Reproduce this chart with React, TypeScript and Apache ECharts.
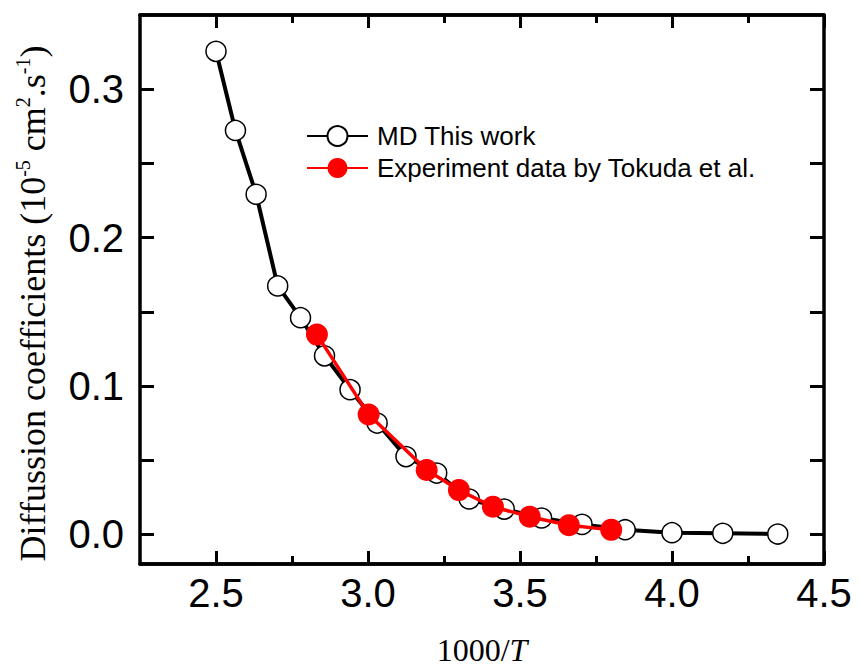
import React, { useEffect, useRef } from "react";
import * as echarts from "echarts";

const mdX = [2.5, 2.564, 2.632, 2.703, 2.778, 2.857, 2.941, 3.03, 3.125, 3.226, 3.333, 3.448, 3.571, 3.704, 3.846, 4.0, 4.167, 4.348];
const mdY = [0.3255, 0.2722, 0.2292, 0.1674, 0.146, 0.1203, 0.0975, 0.075, 0.0524, 0.0413, 0.0238, 0.017, 0.011, 0.0067, 0.0031, 0.0011, 0.0007, 0.0002];
const expX = [2.832, 3.002, 3.193, 3.299, 3.411, 3.532, 3.661, 3.8];
const expY = [0.1346, 0.0807, 0.0433, 0.0298, 0.0186, 0.0119, 0.0061, 0.003];

const xMajor = [2.5, 3.0, 3.5, 4.0, 4.5];
const xMinor = [2.75, 3.25, 3.75, 4.25];
const yTicks = [0, 0.05, 0.1, 0.15, 0.2, 0.25, 0.3];
const yLabels = [0, 0.1, 0.2, 0.3];

const SANS = "Liberation Sans, Arial, sans-serif";
const SERIF = "Liberation Serif, Times New Roman, serif";

export default function App() {
  const ref = useRef<HTMLDivElement>(null);
  useEffect(() => {
    if (!ref.current) return;
    const chart = echarts.init(ref.current, null, { renderer: "svg" });
    const axisLine = { show: true, onZero: false, lineStyle: { color: "#000", width: 3.5 } };
    const xBase = { type: "value", min: 2.25, max: 4.5, splitLine: { show: false }, axisLine };
    const yBase = { type: "value", min: -0.02, max: 0.35, splitLine: { show: false }, axisLine };
    const tickStyle = { color: "#000", width: 3 };
    chart.setOption({
      animation: false,
      backgroundColor: "#fff",
      grid: { left: 140, right: 35, top: 15, bottom: 104, containLabel: false, outerBoundsMode: "none" },
      legend: {
        orient: "vertical",
        left: 301,
        top: 118,
        itemWidth: 61,
        itemHeight: 25,
        itemGap: 6,
        textStyle: { fontSize: 26, fontFamily: SANS, color: "#000", padding: [0, 0, 0, 4] },
        data: ["MD This work", "Experiment data by Tokuda et al."],
      },
      xAxis: [
        {
          ...xBase,
          position: "bottom",
          axisTick: { show: true, inside: true, length: 13, lineStyle: tickStyle, customValues: xMajor },
          axisLabel: {
            customValues: xMajor,
            formatter: (v: number) => v.toFixed(1),
            fontSize: 40,
            fontFamily: SANS,
            color: "#000",
            margin: 9,
            showMinLabel: true,
            showMaxLabel: true,
          },
          name: "{n|1000/}{i|T}",
          nameLocation: "middle",
          nameGap: 70,
          nameTextStyle: {
            fontFamily: SERIF,
            fontSize: 32,
            color: "#000",
            rich: {
              n: { fontFamily: SERIF, fontSize: 32, color: "#000" },
              i: { fontFamily: SERIF, fontSize: 32, fontStyle: "italic", color: "#000" },
            },
          },
        },
        {
          ...xBase,
          position: "bottom",
          axisTick: { show: true, inside: true, length: 8, lineStyle: tickStyle, customValues: xMinor },
          axisLabel: { show: false },
        },
        {
          ...xBase,
          position: "top",
          axisTick: { show: true, inside: true, length: 13, lineStyle: tickStyle, customValues: xMajor },
          axisLabel: { show: false },
        },
        {
          ...xBase,
          position: "top",
          axisTick: { show: true, inside: true, length: 8, lineStyle: tickStyle, customValues: xMinor },
          axisLabel: { show: false },
        },
      ],
      yAxis: [
        {
          ...yBase,
          position: "left",
          axisTick: { show: true, inside: true, length: 14, lineStyle: tickStyle, customValues: yTicks },
          axisLabel: {
            customValues: yLabels,
            formatter: (v: number) => v.toFixed(1),
            fontSize: 40,
            fontFamily: SANS,
            color: "#000",
            margin: 16,
            showMinLabel: true,
            showMaxLabel: true,
          },
          name: "{n|Diffussion coefficients (10}{sup|-5}{n| cm}{sup|2}{n|.s}{sup|-1}{n|)}",
          nameLocation: "middle",
          nameRotate: 90,
          nameGap: 87,
          nameTextStyle: {
            fontFamily: SERIF,
            fontSize: 36,
            color: "#000",
            lineHeight: 40,
            padding: [0, 28, 0, 0],
            rich: {
              n: { fontFamily: SERIF, fontSize: 36, color: "#000", lineHeight: 40 },
              sup: { fontFamily: SERIF, fontSize: 20, color: "#000", verticalAlign: "top", lineHeight: 20 },
            },
          },
        },
        {
          ...yBase,
          position: "right",
          axisTick: { show: true, inside: true, length: 14, lineStyle: tickStyle, customValues: yTicks },
          axisLabel: { show: false },
        },
      ],
      series: [
        {
          name: "MD This work",
          type: "line",
          xAxisIndex: 0,
          yAxisIndex: 0,
          data: mdX.map((x, i) => [x, mdY[i]]),
          symbol: "circle",
          symbolSize: 20,
          showAllSymbol: true,
          lineStyle: { color: "#000", width: 4 },
          itemStyle: { color: "#fff", borderColor: "#000", borderWidth: 1.5 },
          z: 2,
        },
        {
          name: "Experiment data by Tokuda et al.",
          type: "line",
          xAxisIndex: 0,
          yAxisIndex: 0,
          data: expX.map((x, i) => [x, expY[i]]),
          symbol: "circle",
          symbolSize: 22,
          showAllSymbol: true,
          lineStyle: { color: "#ff0000", width: 3.5 },
          itemStyle: { color: "#ff0000", borderColor: "#ff0000", borderWidth: 0 },
          z: 3,
        },
      ],
    });
    return () => chart.dispose();
  }, []);
  return (
    <div
      ref={ref}
      style={{ position: "absolute", left: 0, top: 0, width: 859, height: 668, background: "#fff" }}
    />
  );
}
